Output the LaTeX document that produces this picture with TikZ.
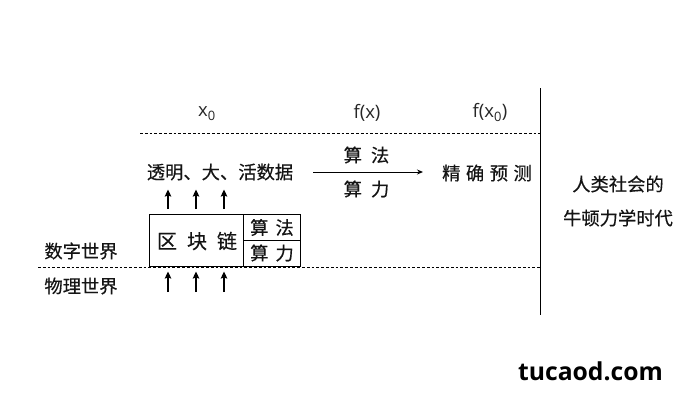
\documentclass[tikz,border=0pt]{standalone}
\usepackage{fontspec}
\setmainfont{Open Sans}
\newfontfamily\cjk{Noto Sans CJK SC}[FakeBold=0.4]
\usetikzlibrary{arrows.meta}
\tikzset{
  lbl/.style={inner sep=0pt,outer sep=0pt,font=\fontsize{18.3}{18.3}\selectfont\cjk,text=black!92},
  lat/.style={inner sep=0pt,outer sep=0pt,font=\fontsize{18.5}{18.5}\selectfont,text=black!85},
  dash line/.style={line width=1pt,dash pattern=on 2.8pt off 2pt,draw=black},
  up arrow/.style={line width=1.3pt,-{Stealth[length=7pt,width=6.5pt,inset=1pt]}},
  cell/.style={draw=black,line width=1.1pt,inner sep=0pt,outer sep=0pt}
}
\begin{document}
\begin{tikzpicture}[x=1pt,y=-1pt]
\useasboundingbox (0,0) rectangle (700,400);
% reference points
\coordinate (d1a) at (140,133); \coordinate (d1b) at (540,133);
\coordinate (d2a) at (38,267); \coordinate (d2b) at (540,267);
\coordinate (va) at (540.5,88); \coordinate (vb) at (540.5,315);
\draw[dash line] (d1a) -- (d1b);
\draw[dash line] (d2a) -- (d2b);
\draw[line width=1.3pt] (va) -- (vb);
% headers
\node[lat] (x0) at (207,113.5) {x\textsubscript{0}};
\node[lat] (fx) at (367,112.5) {f(x)};
\node[lat] (fx0) at (490,112.5) {f(x\textsubscript{0})};
% data row
\node[lbl] (data) at (220,172) {透明、大、活数据};
\node[lbl] (pred) at (487,173) {精\hspace{5.5pt}确\hspace{5.5pt}预\hspace{5.5pt}测};
\node[lbl] (alg) at (366.5,155) {算\hspace{9pt}法};
\node[lbl] (pow) at (366.5,189) {算\hspace{9pt}力};
\coordinate (ma) at (313,172); \coordinate (mb) at (423,172);
\draw[line width=1pt,-{Stealth[length=6pt,width=5pt]}] (ma) -- (mb);
% box
\node[cell,minimum width=94pt,minimum height=52pt,anchor=north west] (chain) at (149.5,214.5) {};
\node[lbl,font=\fontsize{20}{20}\selectfont\cjk] (chaintext) at (197,241) {区\hspace{10pt}块\hspace{10pt}链};
\node[cell,minimum width=57pt,minimum height=26pt,anchor=north west] (b1) at (243.5,214.5) {};
\node[cell,minimum width=57pt,minimum height=26pt,anchor=north west] (b2) at (243.5,240.5) {};
\node[lbl] at (b1.center) {算\hspace{7pt}法};
\node[lbl] at ([yshift=0.5pt]b2.center) {算\hspace{7pt}力};
% arrows
\foreach \n/\xx in {a/168,b/196,c/224}{
  \coordinate (u\n1) at (\xx,209); \coordinate (u\n2) at (\xx,189.5);
  \coordinate (l\n1) at (\xx,292); \coordinate (l\n2) at (\xx,271.5);
  \draw[up arrow] (u\n1) -- (u\n2);
  \draw[up arrow] (l\n1) -- (l\n2);
}
% side labels
\node[lbl] (dw) at (81,251) {数字世界};
\node[lbl] (pw) at (81,286) {物理世界};
\node[lbl] (h1) at (618,184) {人类社会的};
\node[lbl] (h2) at (618,218) {牛顿力学时代};
% watermark
\node[inner sep=0pt,font=\fontsize{24.7}{24.7}\selectfont\bfseries,text=black] (wm) at (590.5,371) {tucaod.com};
\end{tikzpicture}
\end{document}
